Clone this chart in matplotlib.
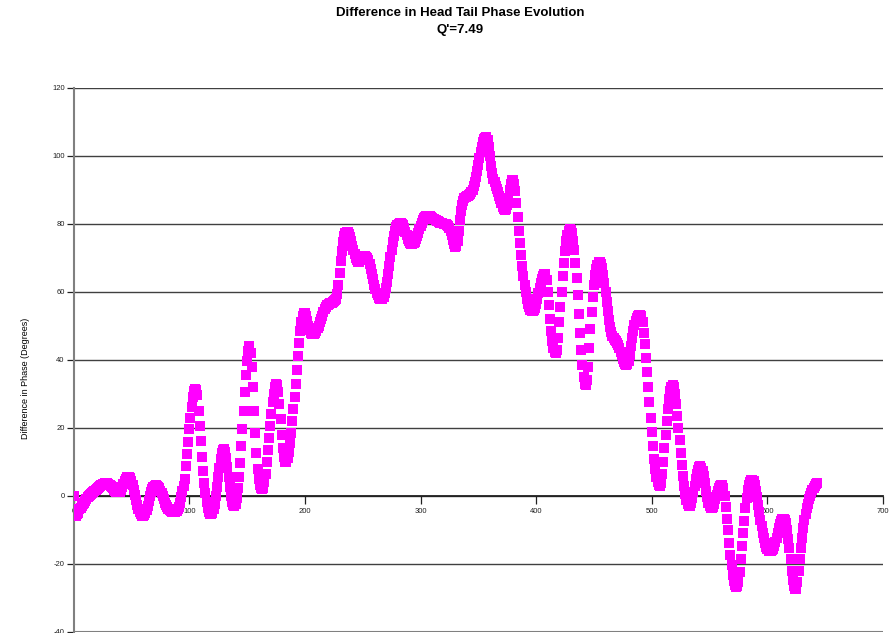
import numpy as np
import matplotlib
matplotlib.use("Agg")
import matplotlib.pyplot as plt

plt.rcParams['axes.unicode_minus'] = False

# phase difference (degrees), one value per turn
phase_diff = [
    0, -6, -6, -5.5, -5, -4, -3.5, -3, -2.5, -2,
    -1.5, -1, -0.5, 0, 0.3, 0.6, 0.9, 1.2, 1.5, 1.8,
    2.1, 2.4, 2.7, 3, 3.2, 3.4, 3.5, 3.6, 3.6, 3.6,
    3.5, 3.3, 3.0, 2.6, 2.2, 1.8, 1.4, 1.1, 1.0, 1.0,
    1.2, 1.8, 2.6, 3.5, 4.3, 5.0, 5.4, 5.6, 5.6, 5.2,
    4.4, 3.2, 1.8, 0.3, -1.2, -2.6, -3.8, -4.8, -5.5, -5.9,
    -6, -5.8, -5.2, -4.2, -3, -1.6, -0.2, 1, 2, 2.6,
    3, 3.1, 3, 2.7, 2.2, 1.5, 0.7, -0.2, -1.1, -2,
    -2.8, -3.4, -3.9, -4.3, -4.5, -4.7, -4.8, -4.8, -4.7, -4.5,
    -4, -3.2, -2, -0.5, 1.3, 3, 5, 8.8, 12.3, 15.9,
    19.5, 23, 26.2, 29, 30.8, 31.3, 31, 29.5, 25, 20.5,
    16, 11.5, 7.3, 3.7, 0.7, -1.8, -3.6, -4.8, -5.4, -5.5,
    -5.1, -4, -2.3, 0, 2.7, 5.5, 8.3, 10.8, 12.6, 13.5,
    13.6, 12.8, 11, 8.5, 5.5, 2.5, 0, -1.8, -2.8, -3.1,
    -2.5, -0.6, 2.2, 5.5, 9.5, 14.5, 19.5, 25, 30.5, 35.5,
    39.5, 42.5, 44, 42, 38, 32, 25, 18.5, 12.5, 8,
    5, 3.3, 2.3, 2, 2.2, 4, 6.5, 10, 13.5, 17,
    20.5, 24, 27.5, 30, 32, 33, 32.5, 30.5, 27, 22.5,
    18, 14, 11.5, 10, 9.8, 11, 13, 15.5, 18.5, 22,
    25.5, 29, 33, 37, 41, 45, 48.5, 51, 52.8, 53.6,
    53.8, 53, 51.5, 50, 48.8, 48, 47.6, 47.5, 47.6, 48,
    48.5, 49.2, 50, 51, 52, 53, 54, 55, 55.6, 56,
    56.2, 56.4, 56.6, 56.8, 57, 57.3, 57.6, 58, 59.2, 62,
    65.5, 69, 72, 74.5, 76.3, 77.3, 77.7, 77.6, 77, 76,
    74.8, 73.5, 72.2, 71, 70, 69.2, 68.8, 68.8, 69.2, 69.7,
    70.1, 70.3, 70.4, 70.3, 70, 69.3, 68.2, 66.8, 65.2, 63.6,
    62.1, 60.8, 59.7, 58.9, 58.3, 58, 57.9, 58, 58.5, 59.5,
    61, 63, 65.3, 67.7, 70.1, 72.4, 74.5, 76.3, 77.8, 78.9,
    79.6, 80, 80.2, 80.2, 80, 79.5, 78.7, 77.7, 76.6, 75.6,
    74.8, 74.3, 74, 74, 74.2, 74.7, 75.4, 76.3, 77.3, 78.4,
    79.4, 80.3, 81.1, 81.7, 82.1, 82.3, 82.4, 82.4, 82.3, 82.1,
    81.8, 81.5, 81.3, 81.1, 80.9, 80.7, 80.5, 80.3, 80.2, 80.1,
    80, 79.9, 79.8, 79.6, 79.3, 78.8, 78, 76.8, 75.3, 73.9,
    73.2, 73.4, 75, 77.8, 81, 83.7, 85.6, 86.8, 87.5, 87.9,
    88.1, 88.3, 88.5, 88.8, 89.3, 90, 91, 92.3, 93.8, 95.5,
    97.3, 99.2, 101, 102.6, 103.9, 104.8, 105.3, 105.4, 104.6, 102.6,
    99.8, 97, 94.8, 93.3, 92.2, 91.2, 90.3, 89.3, 88.3, 87.2,
    86, 85, 84.3, 84, 84.3, 85.5, 87.5, 89.8, 91.7, 92.8,
    93, 91.8, 89.5, 86, 82, 78, 74.2, 70.7, 67.5, 64.6,
    62, 59.8, 58, 56.5, 55.4, 54.7, 54.3, 54.2, 54.5, 55.3,
    56.5, 58, 59.6, 61.2, 62.6, 63.8, 64.7, 65.2, 65.2, 63.5,
    60, 56, 52, 48.5, 45.5, 43.5, 42.4, 42, 43, 46.5,
    51, 55.5, 60, 64.5, 68.5, 72, 74.8, 76.8, 78, 78.5,
    78.3, 77.2, 75, 72.2, 68.5, 64, 59, 53.5, 48, 43,
    38.5, 35, 33, 32.5, 34, 38, 43.5, 49, 54, 58.5,
    62, 64.8, 66.8, 68, 68.7, 68.8, 68.3, 67, 65, 62.5,
    59.8, 57, 54.3, 51.8, 49.7, 48.1, 47, 46.3, 45.9, 45.5,
    45, 44.3, 43.4, 42.4, 41.3, 40.3, 39.4, 38.8, 38.5, 38.6,
    39.5, 41.5, 44, 46.5, 48.5, 50.2, 51.5, 52.4, 53, 53.3,
    53.3, 52.8, 51, 48, 44.5, 40.5, 36.3, 32, 27.5, 23,
    18.6, 14.5, 10.8, 7.8, 5.5, 4, 3.2, 3, 3.8, 6.3,
    10, 14, 18, 22, 25.5, 28.5, 30.7, 32, 32.5, 32,
    30, 27, 23.5, 20, 16.3, 12.5, 9, 5.8, 3, 0.6,
    -1.2, -2.4, -3, -2.9, -2.1, -0.8, 1, 3, 4.9, 6.5,
    7.7, 8.4, 8.6, 8.3, 7.3, 5.7, 3.7, 1.5, -0.5, -2.1,
    -3.1, -3.6, -3.6, -3.2, -2.3, -1.1, 0.2, 1.4, 2.4, 3,
    3.2, 3.1, 2.2, 0, -3.2, -6.7, -10.2, -13.8, -17.3, -20.5,
    -23.2, -25.1, -26.2, -26.7, -26.5, -25.3, -22.5, -18.5, -14.7, -11,
    -7.3, -3.7, -0.7, 1.6, 3.1, 4.1, 4.6, 4.7, 4.3, 3.2,
    1.5, -0.5, -2.6, -4.8, -7, -9, -10.9, -12.5, -13.9, -15,
    -15.8, -16.2, -16.3, -16.3, -16.1, -15.6, -14.8, -13.7, -12.4, -10.9,
    -9.5, -8.3, -7.4, -6.9, -6.8, -7, -8, -10, -12.6, -15.5,
    -18.7, -22, -24.8, -26.6, -27.4, -27.5, -25.5, -22, -18.7, -15.4,
    -12.3, -9.5, -7.2, -5.3, -3.7, -2.3, -1.1, -0.1, 0.8, 1.6,
    2.3, 2.9, 3.4, 3.8,
]
turns = np.arange(len(phase_diff))

x_ticks = [0, 100, 200, 300, 400, 500, 600, 700]
y_ticks = [-40, -20, 0, 20, 40, 60, 80, 100, 120]

narrow = ['Liberation Sans Narrow', 'Liberation Sans', 'DejaVu Sans']
plain = ['Liberation Sans', 'DejaVu Sans']

fig = plt.figure(figsize=(8.93, 6.33), dpi=100)
ax = fig.add_axes([0.0825, 0.002, 0.9063, 0.8594])

# horizontal grid lines
for yv in y_ticks[1:]:
    ax.axhline(yv, color='#404040', lw=1.0, zorder=1)
ax.axhline(-40, color='#808080', lw=1.5, zorder=1)

ax.plot(turns, phase_diff, 's', color='#FF00FF', markersize=6.5,
        markeredgewidth=0, zorder=3)

ax.set_xlim(0, 700)
ax.set_ylim(-40, 120)

ax.spines['top'].set_visible(False)
ax.spines['right'].set_visible(False)
ax.spines['left'].set_color('#808080')
ax.spines['left'].set_linewidth(1.5)
ax.spines['bottom'].set_position(('data', 0))
ax.spines['bottom'].set_color('#202020')
ax.spines['bottom'].set_linewidth(1.3)
ax.spines['bottom'].set_zorder(2)

ax.set_xticks(x_ticks)
ax.set_yticks(y_ticks)
ax.tick_params(axis='x', direction='out', length=5.5, width=0.9, pad=3,
               labelsize=5.5, colors='#202020')
ax.tick_params(axis='y', direction='out', length=5, width=0.9, pad=1.5,
               labelsize=5.5, colors='#202020')
for lab in ax.get_xticklabels() + ax.get_yticklabels():
    lab.set_family(narrow)

fig.text(0.515, 0.980, 'Difference in Head Tail Phase Evolution', ha='center',
         va='center', fontsize=9.5, fontweight='bold', family=narrow)
fig.text(0.515, 0.953, "Q'=7.49", ha='center', va='center', fontsize=9.5,
         fontweight='bold', family=narrow)
fig.text(0.028, 1 - 378 / 633, 'Difference in Phase (Degrees)', rotation=90,
         ha='center', va='center', fontsize=6.5, family=plain)

fig.savefig('out.png', dpi=100)
